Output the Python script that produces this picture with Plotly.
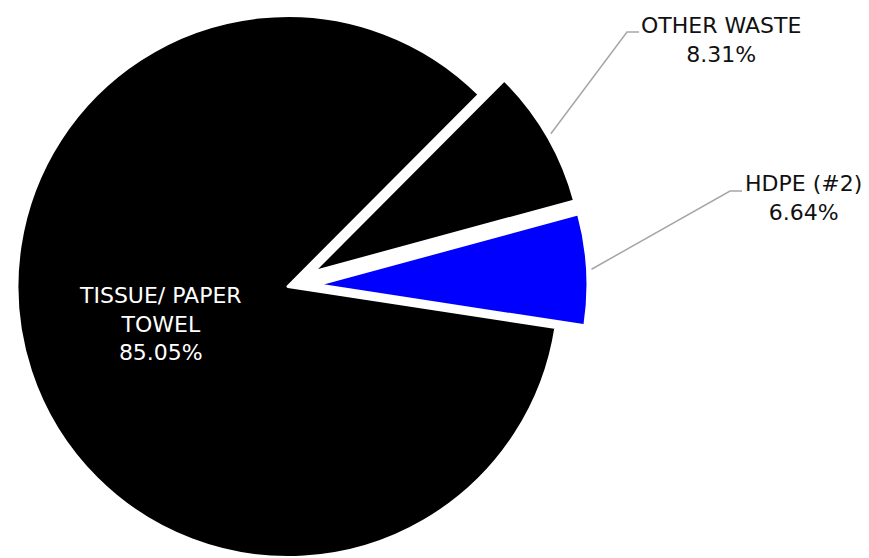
import math
import plotly.graph_objects as go

# ---- data ----
categories = ["HDPE (#2)", "OTHER WASTE", "TISSUE/ PAPER<br>TOWEL"]
values = [6.64, 8.31, 85.05]
colors = ["#0000FF", "#000000", "#000000"]
pulled = [True, True, False]

# ---- layout constants (pixels) ----
W, H = 869, 558
CX, CY = 288, 286.5      # pie centre
R = 271                  # pie radius
PULL_PX = 29             # explode distance
START_DEG = -8.7         # math angle of first slice's clockwise edge
FONT = "DejaVu Sans"
FS = 22

total = sum(values)
mids = []
acc = 0.0
for v in values:
    mids.append(START_DEG + 360.0 * (acc + v / 2) / total)
    acc += v
# plotly: with counterclockwise direction, rotation marks the ccw edge of the first slice
ROTATION = 90 - (START_DEG + 360.0 * values[0] / total)

def px2paper(x, y):
    return x / W, 1 - y / H

fig = go.Figure()
centers = {}
order = [2, 1, 0]
for k in order:
    if pulled[k]:
        a = math.radians(mids[k])
        cx, cy = CX + PULL_PX * math.cos(a), CY - PULL_PX * math.sin(a)
    else:
        cx, cy = CX, CY
    centers[k] = (cx, cy)
    fill = [colors[i] if i == k else "rgba(0,0,0,0)" for i in range(len(values))]
    lw = [3 if i == k else 0 for i in range(len(values))]
    x0, x1 = (cx - R) / W, (cx + R) / W
    y0, y1 = 1 - (cy + R) / H, 1 - (cy - R) / H
    fig.add_trace(go.Pie(
        labels=categories, values=values, sort=False,
        direction="counterclockwise", rotation=ROTATION,
        marker=dict(colors=fill, line=dict(color="white", width=lw)),
        textinfo="none", hoverinfo="skip", showlegend=False,
        domain=dict(x=[max(0, x0), min(1, x1)], y=[max(0, y0), min(1, y1)]),
    ))

pct = [f"{v:.2f}%" for v in values]

annotations = []
shapes = []
tx, ty = px2paper(160, 324)
annotations.append(dict(x=tx, y=ty, xref="paper", yref="paper", showarrow=False,
                        text=f"{categories[2]}<br>{pct[2]}", align="center",
                        font=dict(family=FONT, size=FS, color="white"),
                        xanchor="center", yanchor="middle"))

label_spec = {
    1: dict(elbow=(627, 32), end=(639, 32), text_pos=(721, 40)),
    0: dict(elbow=(730, 191), end=(742, 191), text_pos=(803, 198)),
}
for k, spec in label_spec.items():
    cx, cy = centers[k]
    a = math.radians(mids[k])
    sx, sy = cx + (R + 4) * math.cos(a), cy - (R + 4) * math.sin(a)
    p0 = px2paper(sx, sy)
    p1 = px2paper(*spec["elbow"])
    p2 = px2paper(*spec["end"])
    shapes.append(dict(type="path", xref="paper", yref="paper",
                       path=f"M {p0[0]},{p0[1]} L {p1[0]},{p1[1]} L {p2[0]},{p2[1]}",
                       line=dict(color="#A6A6A6", width=1.5)))
    lx, ly = px2paper(*spec["text_pos"])
    annotations.append(dict(x=lx, y=ly, xref="paper", yref="paper", showarrow=False,
                            text=f"{categories[k]}<br>{pct[k]}", align="center",
                            font=dict(family=FONT, size=FS, color="#111111"),
                            xanchor="center", yanchor="middle"))

fig.update_layout(
    width=W, height=H,
    margin=dict(l=0, r=0, t=0, b=0),
    paper_bgcolor="white", plot_bgcolor="white",
    annotations=annotations, shapes=shapes,
)
fig.write_html("out.html")
